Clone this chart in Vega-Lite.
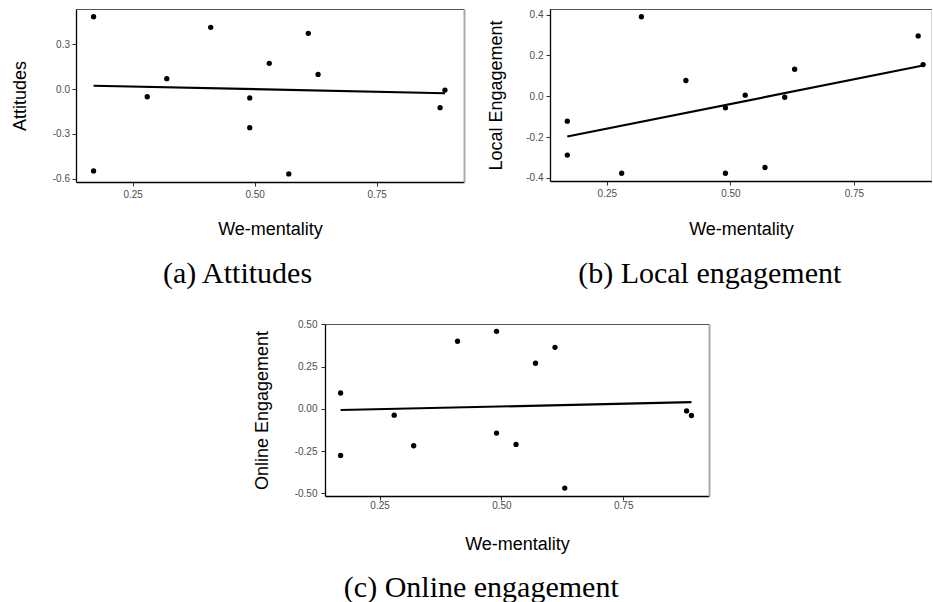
{
  "$schema": "https://vega.github.io/schema/vega-lite/v6.json",
  "background": "white",
  "padding": {"left": 11, "top": 9, "right": 0, "bottom": 0},
  "config": {
    "font": "Liberation Sans",
    "view": {"stroke": null},
    "axis": {
      "grid": false,
      "labelFont": "Liberation Sans",
      "labelFontSize": 10,
      "labelColor": "#4d4d4d",
      "titleFont": "Liberation Sans",
      "titleFontSize": 18,
      "titleFontWeight": "normal",
      "titleColor": "black",
      "tickColor": "#333333",
      "tickSize": 4,
      "tickWidth": 1,
      "domainColor": "black",
      "domainWidth": 1.3
    },
    "title": {
      "font": "Liberation Serif",
      "fontSize": 30,
      "fontWeight": "normal",
      "color": "black",
      "orient": "bottom",
      "anchor": "middle",
      "frame": "bounds",
      "baseline": "alphabetic"
    }
  },
  "datasets": {
    "attitudes": [
      {"we": 0.17, "value": 0.484},
      {"we": 0.17, "value": -0.549},
      {"we": 0.28, "value": -0.052},
      {"we": 0.32, "value": 0.069},
      {"we": 0.41, "value": 0.413},
      {"we": 0.49, "value": -0.060},
      {"we": 0.49, "value": -0.259},
      {"we": 0.53, "value": 0.172},
      {"we": 0.57, "value": -0.569},
      {"we": 0.61, "value": 0.373},
      {"we": 0.63, "value": 0.098},
      {"we": 0.88, "value": -0.125},
      {"we": 0.89, "value": -0.007}
    ],
    "local": [
      {"we": 0.17, "value": -0.122},
      {"we": 0.17, "value": -0.288},
      {"we": 0.28, "value": -0.377},
      {"we": 0.32, "value": 0.389},
      {"we": 0.41, "value": 0.077},
      {"we": 0.49, "value": -0.057},
      {"we": 0.49, "value": -0.377},
      {"we": 0.53, "value": 0.005},
      {"we": 0.57, "value": -0.349},
      {"we": 0.61, "value": -0.005},
      {"we": 0.63, "value": 0.132},
      {"we": 0.88, "value": 0.295},
      {"we": 0.89, "value": 0.155}
    ],
    "online": [
      {"we": 0.17, "value": 0.094},
      {"we": 0.17, "value": -0.275},
      {"we": 0.28, "value": -0.037},
      {"we": 0.32, "value": -0.218},
      {"we": 0.41, "value": 0.400},
      {"we": 0.49, "value": 0.459},
      {"we": 0.49, "value": -0.143},
      {"we": 0.53, "value": -0.210},
      {"we": 0.57, "value": 0.270},
      {"we": 0.61, "value": 0.364},
      {"we": 0.63, "value": -0.468},
      {"we": 0.88, "value": -0.012},
      {"we": 0.89, "value": -0.039}
    ]
  },
  "vconcat": [
    {
      "hconcat": [
        {
          "width": 388,
          "height": 173,
          "data": {"name": "attitudes"},
          "title": {"text": "(a) Attitudes", "offset": 21},
          "layer": [
            {
              "mark": {"type": "circle", "size": 28, "color": "black", "opacity": 1},
              "encoding": {
                "x": {"field": "we", "type": "quantitative", "title": "We-mentality",
                  "scale": {"domain": [0.134, 0.929], "zero": false, "nice": false},
                  "axis": {"values": [0.25, 0.5, 0.75], "format": ".2f", "labelPadding": 3, "minExtent": 18, "maxExtent": 18, "titlePadding": 20}},
                "y": {"field": "value", "type": "quantitative", "title": "Attitudes",
                  "scale": {"domain": [-0.623, 0.536], "zero": false, "nice": false},
                  "axis": {"values": [-0.6, -0.3, 0, 0.3], "labelExpr": "replace(format(datum.value, '.1f'), '\u2212', '-')", "labelPadding": 2.5, "minExtent": 30, "maxExtent": 30, "titlePadding": 17}}
              }
            },
            {
              "transform": [{"regression": "value", "on": "we"}],
              "mark": {"type": "line", "color": "black", "strokeWidth": 2.2},
              "encoding": {
                "x": {"field": "we", "type": "quantitative",
                  "axis": {"orient": "top", "labels": false, "ticks": false, "title": null, "domainColor": "#555555", "domainWidth": 1, "minExtent": 0, "maxExtent": 0}},
                "y": {"field": "value", "type": "quantitative",
                  "axis": {"orient": "right", "labels": false, "ticks": false, "title": null, "domainColor": "#aaaaaa", "domainWidth": 2, "minExtent": 0, "maxExtent": 0}}
              }
            }
          ],
          "resolve": {"axis": {"x": "independent", "y": "independent"}}
        },
        {
          "width": 382,
          "height": 172,
          "data": {"name": "local"},
          "title": {"text": "(b) Local engagement", "offset": 21},
          "layer": [
            {
              "mark": {"type": "circle", "size": 28, "color": "black", "opacity": 1},
              "encoding": {
                "x": {"field": "we", "type": "quantitative", "title": "We-mentality",
                  "scale": {"domain": [0.135, 0.908], "zero": false, "nice": false},
                  "axis": {"values": [0.25, 0.5, 0.75], "format": ".2f", "labelPadding": 3, "minExtent": 18, "maxExtent": 18, "titlePadding": 21}},
                "y": {"field": "value", "type": "quantitative", "title": "Local Engagement",
                  "scale": {"domain": [-0.415, 0.427], "zero": false, "nice": false},
                  "axis": {"values": [-0.4, -0.2, 0, 0.2, 0.4], "labelExpr": "replace(format(datum.value, '.1f'), '\u2212', '-')", "labelPadding": 3, "minExtent": 30, "maxExtent": 30, "titlePadding": 14.5}}
              }
            },
            {
              "transform": [{"regression": "value", "on": "we"}],
              "mark": {"type": "line", "color": "black", "strokeWidth": 2.2},
              "encoding": {
                "x": {"field": "we", "type": "quantitative",
                  "axis": {"orient": "top", "labels": false, "ticks": false, "title": null, "domainColor": "#555555", "domainWidth": 1, "minExtent": 0, "maxExtent": 0}},
                "y": {"field": "value", "type": "quantitative",
                  "axis": {"orient": "right", "labels": false, "ticks": false, "title": null, "domainColor": "#aaaaaa", "domainWidth": 2, "minExtent": 0, "maxExtent": 0}}
              }
            }
          ],
          "resolve": {"axis": {"x": "independent", "y": "independent"}}
        }
      ],
      "spacing": 23,
      "align": "none"
    },
    {
      "hconcat": [
        {
          "width": 177,
          "height": 1,
          "data": {"values": []},
          "mark": {"type": "point", "opacity": 0},
          "encoding": {},
          "view": {"stroke": null}
        },
        {
          "width": 384,
          "height": 172,
          "data": {"name": "online"},
          "title": {"text": "(c) Online engagement", "offset": 20},
          "layer": [
            {
              "mark": {"type": "circle", "size": 28, "color": "black", "opacity": 1},
              "encoding": {
                "x": {"field": "we", "type": "quantitative", "title": "We-mentality",
                  "scale": {"domain": [0.138, 0.926], "zero": false, "nice": false},
                  "axis": {"values": [0.25, 0.5, 0.75], "format": ".2f", "labelPadding": 0.5, "minExtent": 18, "maxExtent": 18, "titlePadding": 21}},
                "y": {"field": "value", "type": "quantitative", "title": "Online Engagement",
                  "scale": {"domain": [-0.515, 0.502], "zero": false, "nice": false},
                  "axis": {"values": [-0.5, -0.25, 0, 0.25, 0.5], "labelExpr": "replace(format(datum.value, '.2f'), '\u2212', '-')", "labelPadding": 4, "minExtent": 30, "maxExtent": 30, "titlePadding": 23.4}}
              }
            },
            {
              "transform": [{"regression": "value", "on": "we"}],
              "mark": {"type": "line", "color": "black", "strokeWidth": 2.2},
              "encoding": {
                "x": {"field": "we", "type": "quantitative",
                  "axis": {"orient": "top", "labels": false, "ticks": false, "title": null, "domainColor": "#555555", "domainWidth": 1, "minExtent": 0, "maxExtent": 0}},
                "y": {"field": "value", "type": "quantitative",
                  "axis": {"orient": "right", "labels": false, "ticks": false, "title": null, "domainColor": "#aaaaaa", "domainWidth": 2, "minExtent": 0, "maxExtent": 0}}
              }
            }
          ],
          "resolve": {"axis": {"x": "independent", "y": "independent"}}
        }
      ],
      "spacing": 0,
      "align": "none"
    }
  ],
  "spacing": 30,
  "align": "none"
}
